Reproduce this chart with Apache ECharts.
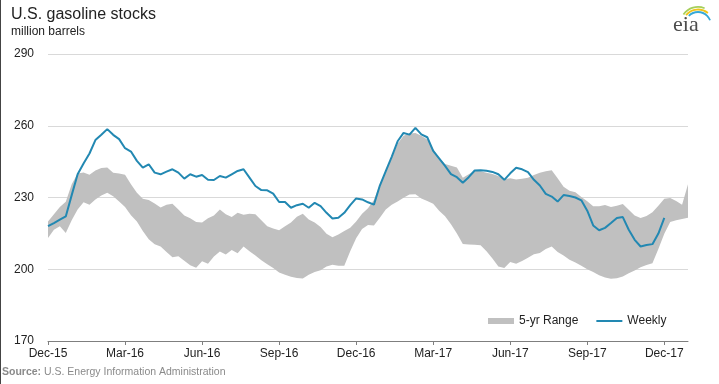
<!DOCTYPE html>
<html>
<head>
<meta charset="utf-8">
<script src="https://cdn.jsdelivr.net/npm/echarts@6/dist/echarts.min.js"></script>
<style>
html,body{margin:0;padding:0;background:#fff;}
#chart{width:719px;height:384px;}
</style>
</head>
<body>
<div id="chart"></div>
<script>
// Weekly dates (week ending Fridays), Dec 4 2015 .. Dec 29 2017
const startDate = Date.UTC(2015, 11, 4);
const weekCount = 109;
const categories = [];
for (let i = 0; i < weekCount; i++) {
  const d = new Date(startDate + i * 7 * 86400000);
  categories.push(d.toISOString().slice(0, 10));
}
const monthNames = ['Jan','Feb','Mar','Apr','May','Jun','Jul','Aug','Sep','Oct','Nov','Dec'];
const tickMonths = [11, 2, 5, 8];

const yTicks = [170, 200, 230, 260, 290];

const weekly = [
  218.0,219.3,220.7,222.1,231.0,239.7,244.2,248.4,254.0,256.2,
  258.6,256.2,254.4,250.6,249.2,245.3,242.5,243.9,240.4,239.7,
  240.8,241.8,240.4,237.9,239.7,238.7,239.4,237.4,237.3,239.0,
  238.3,239.7,241.1,241.8,238.3,234.8,233.1,233.0,231.6,228.1,
  228.1,225.7,226.8,227.4,225.7,227.8,226.4,223.6,221.2,221.5,
  223.6,226.8,229.6,229.2,228.0,227.0,235.0,241.0,247.0,253.5,
  257.0,256.3,259.1,256.4,255.2,249.5,246.4,243.2,239.8,238.5,
  236.2,238.5,241.3,241.4,241.2,240.7,239.7,237.4,240.1,242.4,
  241.8,240.6,237.4,235.0,231.5,230.4,228.3,231.0,230.6,230.0,
  228.8,224.5,218.3,216.3,217.3,219.3,221.4,221.8,216.5,212.3,
  209.5,210.1,210.5,214.9,221.5
];

const rangeHigh = [
  220.0,223.0,226.0,228.2,235.5,240.0,240.5,239.5,241.3,242.3,
  242.5,240.3,240.0,239.5,235.5,232.0,229.5,229.0,227.5,225.8,
  227.0,227.4,225.0,222.5,221.3,219.8,219.5,221.3,222.5,225.0,
  223.0,221.8,223.6,222.8,223.2,223.0,220.5,218.0,217.0,216.3,
  218.0,219.5,222.0,223.2,220.8,219.5,217.7,214.8,213.4,214.5,
  216.0,217.3,220.0,223.2,225.5,229.0,235.5,241.0,246.5,252.5,
  255.8,256.8,257.0,255.8,254.2,250.3,246.5,244.0,243.3,242.5,
  238.3,239.7,241.2,241.0,240.3,239.8,239.0,237.6,238.0,237.5,
  237.8,238.3,239.4,240.3,241.0,241.4,238.0,234.5,232.8,232.2,
  230.2,228.4,226.3,226.3,226.9,226.0,226.5,227.3,224.9,222.5,
  221.4,222.3,223.8,226.5,229.5,229.8,228.5,227.0,235.5
];

const rangeLow = [
  213.1,216.5,218.0,215.2,220.5,225.0,228.0,227.0,229.2,230.8,
  232.0,230.5,228.3,226.0,222.6,220.0,216.0,212.5,210.5,209.5,
  207.2,205.0,205.4,203.6,201.7,200.6,203.3,202.3,205.3,207.4,
  206.2,208.0,206.7,209.5,207.5,205.7,203.8,202.1,200.5,198.6,
  197.7,196.9,196.3,196.1,197.7,198.8,199.6,201.2,201.9,201.5,
  201.5,207.5,213.0,216.8,218.5,218.3,221.5,225.0,227.0,228.3,
  229.9,231.3,231.4,229.6,228.5,227.4,224.5,222.2,218.8,215.0,
  210.6,210.3,210.2,210.0,207.5,204.5,201.2,200.5,203.0,202.3,
  203.5,204.8,206.3,206.8,208.5,209.5,207.2,205.8,204.0,202.8,
  201.5,200.0,198.8,197.5,196.6,196.0,196.2,197.0,198.3,199.5,
  200.8,201.8,202.5,208.5,214.8,219.8,220.5,221.0,221.5
];

const rangeSpan = rangeHigh.map((h, i) => +(h - rangeLow[i]).toFixed(2));
const weeklyFull = categories.map((c, i) => (i < weekly.length ? weekly[i] : null));

function isQuarterTick(index) {
  const d = new Date(categories[index] + 'T00:00:00Z');
  return tickMonths.indexOf(d.getUTCMonth()) >= 0 && d.getUTCDate() <= 7;
}

const chart = echarts.init(document.getElementById('chart'), null, {renderer: 'canvas'});
const FONT = "'Liberation Sans', Arial, sans-serif";

chart.setOption({
  animation: false,
  backgroundColor: '#ffffff',
  textStyle: {fontFamily: FONT},
  title: [
    {text: 'U.S. gasoline stocks', left: 11, top: 7, padding: 0,
     textStyle: {fontFamily: FONT, fontSize: 16, fontWeight: 'normal', color: '#222'}},
    {text: 'million barrels', left: 11, top: 26, padding: 0,
     textStyle: {fontFamily: FONT, fontSize: 12, fontWeight: 'normal', color: '#222'}},
    {text: '{b|Source:} U.S. Energy Information Administration', left: 2, top: 367, padding: 0,
     textStyle: {fontFamily: FONT, fontSize: 10.5, fontWeight: 'normal', color: '#8a8a8a',
       rich: {b: {fontFamily: FONT, fontSize: 10.5, fontWeight: 'bold', color: '#8a8a8a'}}}}
  ],
  legend: {
    left: 483, top: 310,
    itemWidth: 26, itemHeight: 6, itemGap: 17,
    textStyle: {fontFamily: FONT, fontSize: 12, color: '#222'},
    data: [
      {name: '5-yr Range', icon: 'rect'},
      {name: 'Weekly', itemStyle: {opacity: 0}}
    ]
  },
  grid: {left: 48, right: 31, top: 54, bottom: 43, containLabel: false},
  xAxis: {
    type: 'category',
    data: categories,
    boundaryGap: false,
    axisLine: {show: true, lineStyle: {color: '#7f7f7f', width: 1}},
    axisTick: {show: true, length: 4, lineStyle: {color: '#7f7f7f'},
      interval: (i) => isQuarterTick(i)},
    axisLabel: {
      interval: (i) => isQuarterTick(i),
      margin: 7,
      color: '#222', fontSize: 12, fontFamily: FONT,
      formatter: (v) => {
        const d = new Date(v + 'T00:00:00Z');
        return monthNames[d.getUTCMonth()] + '-' + String(d.getUTCFullYear()).slice(2);
      }
    },
    splitLine: {show: false}
  },
  yAxis: {
    type: 'value',
    min: yTicks[0], max: yTicks[yTicks.length - 1], interval: 30,
    axisLine: {show: false},
    axisTick: {show: false},
    axisLabel: {color: '#222', fontSize: 12, fontFamily: FONT, margin: 14},
    splitLine: {lineStyle: {color: '#d9d9d9', width: 1}}
  },
  series: [
    {
      name: 'rangeBase', type: 'line', stack: 'range', data: rangeLow,
      symbol: 'none', lineStyle: {opacity: 0, width: 0}, silent: true, z: 1
    },
    {
      name: '5-yr Range', type: 'line', stack: 'range', data: rangeSpan,
      symbol: 'none', lineStyle: {opacity: 0, width: 0},
      itemStyle: {color: '#c0c0c0'},
      areaStyle: {color: '#c0c0c0', opacity: 1}, z: 2
    },
    {
      name: 'Weekly', type: 'line', data: weeklyFull,
      symbol: 'none', showSymbol: false, connectNulls: false,
      itemStyle: {color: '#2288b2'},
      lineStyle: {color: '#2288b2', width: 2}, z: 3
    }
  ],
  graphic: [
    {type: 'line', shape: {x1: 0.5, y1: 0, x2: 0.5, y2: 384}, style: {stroke: '#444', lineWidth: 1}},
    {type: 'arc', shape: {cx: 698, cy: 25, r: 18, startAngle: Math.PI * 1.2, endAngle: Math.PI * 1.62},
     style: {stroke: '#a6cf5a', lineWidth: 1.8, fill: null}},
    {type: 'arc', shape: {cx: 698, cy: 25, r: 15.5, startAngle: Math.PI * 1.22, endAngle: Math.PI * 1.72},
     style: {stroke: '#f0c419', lineWidth: 1.8, fill: null}},
    {type: 'arc', shape: {cx: 698, cy: 25, r: 13, startAngle: Math.PI * 1.25, endAngle: Math.PI * 1.88},
     style: {stroke: '#36a9d8', lineWidth: 1.8, fill: null}},
    {type: 'text', left: 673, top: 14,
     style: {text: 'eia', font: "22px 'Liberation Serif', serif", fill: '#4d4d4d'}}
  ]
});
</script>
</body>
</html>
